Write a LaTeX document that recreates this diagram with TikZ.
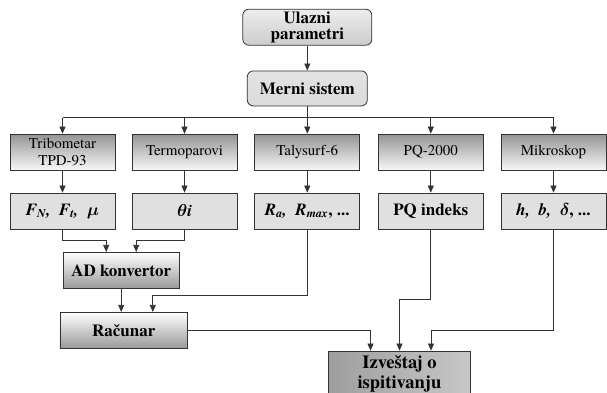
\documentclass[tikz,border=0pt]{standalone}
\usepackage{amsmath,bm}
\usepackage{fontspec}
\setmainfont{texgyretermes}[Extension=.otf, UprightFont=*-regular, BoldFont=*-bold, ItalicFont=*-italic, BoldItalicFont=*-bolditalic]
\usetikzlibrary{arrows.meta}
\begin{document}
\begin{tikzpicture}[x=1pt,y=-1pt]
\tikzset{
  base/.style={draw=black!80, line width=0.8pt, inner sep=0pt, align=center},
  topbox/.style={base, rounded corners=6pt, minimum width=129pt, minimum height=36pt,
    top color=black!7, bottom color=black!20, font=\fontsize{17}{16}\selectfont\bfseries},
  devbox/.style={base, minimum width=105pt, minimum height=36pt,
    top color=black!42, bottom color=black!3, font=\fontsize{15}{17}\selectfont},
  valbox/.style={base, minimum width=105pt, minimum height=36pt,
    fill=black!12, font=\fontsize{17}{17}\selectfont\bfseries},
  procbox/.style={base, minimum height=36pt, top color=white, bottom color=black!40,
    font=\fontsize{17}{17}\selectfont\bfseries},
  conn/.style={draw=black!80, line width=0.7pt, -{Triangle[length=7pt,width=6pt]}},
  plain/.style={draw=black!80, line width=0.7pt},
}
\useasboundingbox (0,0) rectangle (607,392);

% top
\node[topbox] (ulaz) at (307.3,27.2) {Ulazni\\parametri};
\node[topbox, minimum width=120pt, minimum height=35pt, top color=black!11, bottom color=black!14] (merni) at (307.3,88.4) {Merni sistem};

% row 1
\node[devbox] (trib)  at (62.5,152)  {Tribometar\\TPD-93};
\node[devbox] (termo) at (184.5,152) {Termoparovi};
\node[devbox] (taly)  at (307.3,152) {Talysurf-6};
\node[devbox] (pq)    at (430.8,152) {PQ-2000};
\node[devbox] (mikro) at (553.5,152) {Mikroskop};

% row 2
\node[valbox] (fval)  at (62.5,211)  {\itshape F\textsubscript{N}, \ F\textsubscript{t}, \ $\bm{\mu}$};
\node[valbox] (theta) at (184.5,211) {$\bm{\theta}$\itshape i};
\node[valbox] (rval)  at (307.3,211) {\itshape R\textsubscript{a}, \ R\textsubscript{max}\upshape, ...};
\node[valbox] (pqi)   at (430.8,211) {PQ indeks};
\node[valbox] (hval)  at (553.5,211) {\itshape h, \ b, \ $\bm{\delta}$\upshape, ...};

% processing
\node[procbox, minimum width=115.7pt] (ad)  at (121.2,270.3) {AD konvertor};
\node[procbox, minimum width=127.7pt] (rac) at (123.8,330.3) {Računar};
\node[base, minimum width=142.4pt, minimum height=45pt, left color=black!38, middle color=black!4, right color=black!22,
  font=\fontsize{18.5}{20}\selectfont\bfseries] (izv) at (399.5,373.5) {Izveštaj o\\ispitivanju};

% connectors
\coordinate (bus) at (0,117.5);
\coordinate (j1) at (0,240);
\coordinate (j2) at (0,295.3);
\coordinate (j3) at (0,299);

\draw[conn] (ulaz.south) -- (merni.north);
\draw[plain] (trib.north |- bus) -- (mikro.north |- bus);
\draw[plain] (merni.south) -- (merni.south |- bus);
\foreach \n in {trib,termo,taly,pq,mikro}{
  \draw[conn] (\n.north |- bus) -- (\n.north);
}
\draw[conn] (trib) -- (fval);
\draw[conn] (termo) -- (theta);
\draw[conn] (taly) -- (rval);
\draw[conn] (pq) -- (pqi);
\draw[conn] (mikro) -- (hval);

\draw[conn] (fval.south) -- (fval.south |- j1) -| ([xshift=-15pt]ad.north);
\draw[conn] (theta.south) -- (theta.south |- j1) -| ([xshift=15pt]ad.north);
\draw[conn] (ad.south) -- (ad.south |- rac.north);
\draw[conn] (rval.south) -- (rval.south |- j2) -| ([xshift=29pt]rac.north);
\draw[conn] (rac.east) -| ([xshift=-29pt]izv.north);
\draw[conn] (pqi.south) -- (pqi.south |- j3) -| (izv.north);
\draw[conn] (hval.south) -- (hval.south |- rac.east) -| ([xshift=31.5pt]izv.north);
\end{tikzpicture}
\end{document}
